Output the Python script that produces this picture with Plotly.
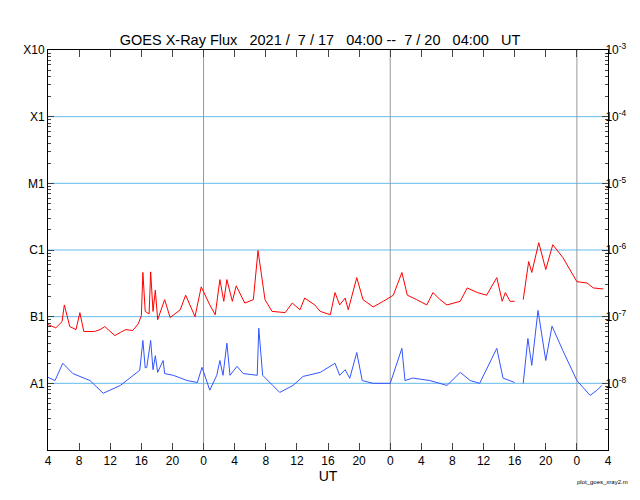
import pandas as pd
import plotly.graph_objects as go

start = pd.Timestamp("2021-07-17 04:00")
end = pd.Timestamp("2021-07-20 04:00")

red_h = [0, 1.0, 1.8, 2.1, 2.8, 3.6, 4.1, 4.6, 6.0, 6.7, 7.3, 8.6, 9.3, 10.0, 10.9, 11.6, 12.0, 12.2, 12.5, 13.0,
         13.2, 13.5, 13.8, 14.1, 15.0, 15.7, 17.0, 17.7, 18.9, 19.7, 20.8, 21.5, 22.1, 22.6, 23.0, 23.7, 24.2, 25.3,
         26.4, 27.0, 27.9, 28.8, 30.5, 31.4, 32.4, 33.0, 34.3, 35.0, 36.3, 36.9, 37.5, 38.2, 38.6, 39.7, 40.5, 41.8,
         43.1, 44.4, 45.5, 46.2, 47.4, 48.7, 49.5, 50.4, 51.3, 53.0, 53.9, 55.2, 56.4, 57.7, 58.4, 58.8, 59.4, 60.0,
         60.5, 61.1, 61.8, 62.2, 63.1, 64.0, 64.9, 66.2, 68.0, 69.3, 70.1, 71.4]
red_v = [7.6e-8, 6.8e-8, 8.4e-8, 1.5e-7, 7.1e-8, 6.4e-8, 1.15e-7, 6.0e-8, 6.0e-8, 6.4e-8, 7.1e-8, 5.2e-8, 5.8e-8,
         6.4e-8, 6.2e-8, 7.8e-8, 1.03e-7, 4.6e-7, 1.2e-7, 1.1e-7, 4.7e-7, 1.2e-7, 2.5e-7, 9e-8, 1.8e-7, 9.7e-8,
         1.27e-7, 2.1e-7, 1e-7, 2.8e-7, 1.5e-7, 1.07e-7, 3.6e-7, 1.7e-7, 3.6e-7, 1.7e-7, 2.9e-7, 1.6e-7, 1.8e-7,
         9.8e-7, 1.8e-7, 1.2e-7, 1.15e-7, 1.6e-7, 1.27e-7, 1.9e-7, 1.5e-7, 1.2e-7, 1.07e-7, 2.3e-7, 1.5e-7, 1.9e-7,
         1.27e-7, 3.85e-7, 1.8e-7, 1.4e-7, 1.7e-7, 2.1e-7, 4.6e-7, 2.1e-7, 1.8e-7, 1.5e-7, 2.3e-7, 1.8e-7, 1.5e-7,
         1.7e-7, 2.7e-7, 2.3e-7, 2.1e-7, 3.85e-7, 1.7e-7, 2.3e-7, 1.7e-7, 1.7e-7,
         None, 1.8e-7, 6.7e-7, 4.6e-7, 1.29e-6, 5.1e-7, 1.2e-6, 7.7e-7, 3.35e-7, 3.2e-7, 2.7e-7, 2.6e-7]

blue_h = [0, 0.9, 1.9, 3.2, 5.4, 6.7, 7.1, 9.3, 10.5, 11.8, 12.2, 12.5, 12.7, 13.2, 13.5, 13.8, 14.1, 14.8, 15.0,
          16.1, 17.9, 19.2, 19.8, 20.8, 21.7, 22.1, 22.5, 23.0, 23.4, 24.3, 25.1, 26.9, 27.1, 27.6, 28.9, 29.8, 31.5,
          32.8, 35.0, 36.9, 37.5, 38.2, 38.8, 39.7, 40.4, 41.8, 44.0, 45.5, 45.9, 46.9, 49.1, 51.3, 53.0, 54.3, 55.5,
          57.7, 58.5, 60.0, 60.5, 61.1, 61.7, 62.2, 63.0, 64.0, 64.8, 66.2, 68.0, 69.7, 70.6, 71.2]
blue_v = [1.23e-8, 1.1e-8, 2.0e-8, 1.4e-8, 1.1e-8, 7.9e-9, 7.1e-9, 9.3e-9, 1.19e-8, 1.57e-8, 4.4e-8, 1.7e-8,
          1.74e-8, 4.4e-8, 1.6e-8, 2.6e-8, 1.46e-8, 2.2e-8, 1.4e-8, 1.32e-8, 1.1e-8, 1.03e-8, 1.74e-8, 7.9e-9,
          1.32e-8, 2.2e-8, 1.32e-8, 4.0e-8, 1.32e-8, 1.8e-8, 1.4e-8, 1.32e-8, 6.7e-8, 1.32e-8, 9.3e-9, 7.3e-9,
          9.3e-9, 1.27e-8, 1.46e-8, 2.0e-8, 1.32e-8, 1.6e-8, 1.19e-8, 2.9e-8, 1.1e-8, 1e-8, 1e-8, 3.35e-8, 1.1e-8,
          1.2e-8, 1.1e-8, 9.3e-9, 1.46e-8, 1.1e-8, 1e-8, 3.35e-8, 1.2e-8, 1.03e-8,
          None, 1e-8, 4.7e-8, 1.86e-8, 1.24e-7, 2.2e-8, 7.2e-8, 3.1e-8, 1.1e-8, 6.6e-9, 7.9e-9, 9.3e-9]

class_vals = [1e-8, 1e-7, 1e-6, 1e-5, 1e-4, 1e-3]
class_text = ["A1", "B1", "C1", "M1", "X1", "X10"]
right_vals = [1e-8, 1e-7, 1e-6, 1e-5, 1e-4, 1e-3]
right_text = ["10<sup>-8</sup>", "10<sup>-7</sup>", "10<sup>-6</sup>", "10<sup>-5</sup>", "10<sup>-4</sup>", "10<sup>-3</sup>"]
grid_levels = [1e-8, 1e-7, 1e-6, 1e-5, 1e-4]
midnights = ["2021-07-18", "2021-07-19", "2021-07-20"]

rx = [start + pd.Timedelta(hours=h) for h in red_h]
bx = [start + pd.Timedelta(hours=h) for h in blue_h]

fig = go.Figure()
fig.add_trace(go.Scatter(x=rx, y=red_v, mode="lines", line=dict(color="#ff0000", width=1), connectgaps=False))
fig.add_trace(go.Scatter(x=bx, y=blue_v, mode="lines", line=dict(color="#3355ff", width=1), connectgaps=False))
fig.add_trace(go.Scatter(x=[start], y=[1e-9], yaxis="y2", mode="markers", marker=dict(opacity=0), hoverinfo="skip"))

for g in grid_levels:
    fig.add_shape(type="line", xref="paper", x0=0, x1=1, yref="y", y0=g, y1=g,
                  line=dict(color="#66bbee", width=1), layer="below")
for m in midnights:
    fig.add_shape(type="line", xref="x", x0=m, x1=m, yref="paper", y0=0, y1=1,
                  line=dict(color="#999999", width=1), layer="below")

fig.update_layout(
    width=624, height=492, showlegend=False,
    plot_bgcolor="white", paper_bgcolor="white",
    margin=dict(l=40, r=24, t=42, b=50, autoexpand=False),
    font=dict(family="Liberation Sans, Arial", size=12, color="black"),
    title=dict(text="GOES X-Ray Flux   2021 /  7 / 17   04:00 --  7 / 20   04:00   UT",
               x=0.5, xanchor="center", y=0.935, yanchor="middle", font=dict(size=14.5)),
    xaxis=dict(range=[start, end], type="date", tick0="2021-07-17 00:00", dtick=4 * 3600000,
               tickformat="%-H", ticks="inside", ticklen=7, mirror="ticks", showgrid=False, showline=True,
               linecolor="black", title=dict(text="UT", standoff=2, font=dict(size=14)), zeroline=False,
               automargin=False),
    yaxis=dict(type="log", range=[-9, -3], tickvals=class_vals, ticktext=class_text, showgrid=False,
               ticks="inside", ticklen=6, showline=True, linecolor="black", automargin=False,
               minor=dict(ticks="inside", ticklen=3, showgrid=False, dtick="D1")),
    yaxis2=dict(type="log", range=[-9, -3], overlaying="y", side="right", tickvals=right_vals,
                ticktext=right_text, showgrid=False, ticks="inside", ticklen=6, showline=True,
                linecolor="black", ticklabelstandoff=-6, automargin=False,
                minor=dict(ticks="inside", ticklen=3, showgrid=False, dtick="D1")),
)
fig.add_annotation(text="plot_goes_xray2.m", xref="paper", yref="paper", x=1.04, y=-0.08,
                   xanchor="right", yanchor="middle", showarrow=False, font=dict(size=6))
fig.write_html("out.html")
